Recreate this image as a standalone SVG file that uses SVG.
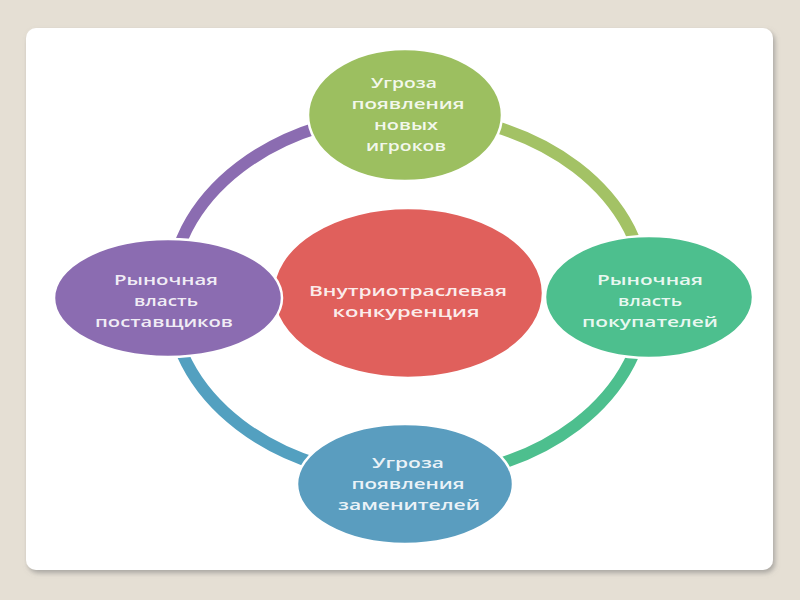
<svg xmlns="http://www.w3.org/2000/svg" width="800" height="600" viewBox="0 0 800 600">
  <defs>
    <filter id="shadow" x="-5%" y="-5%" width="110%" height="110%">
      <feDropShadow dx="2" dy="3" stdDeviation="2.5" flood-color="#777" flood-opacity="0.55"/>
    </filter>
    <style>
      .ring { fill: none; stroke-width: 12; }
      .node { stroke: #ffffff; stroke-width: 2.5; }
      .lbl { font-family: "Open Sans", "Liberation Sans", sans-serif; font-size: 15px; font-weight: 600; fill: #ffffff; fill-opacity: 0.9; text-anchor: middle; }
    </style>
  </defs>
  <rect width="800" height="600" fill="#e5dfd4"/>
  <rect x="26" y="28" width="747" height="542" rx="10" ry="10" fill="#ffffff" filter="url(#shadow)"/>

  <g id="connectors">
    <path class="ring" stroke="#8b6cb1" d="M408,114 A238,182 0 0 0 170,296"/>
    <path class="ring" stroke="#a3c265" d="M408,114 A238,182 0 0 1 646,296"/>
    <path class="ring" stroke="#4dbf8e" d="M646,296 A238,182 0 0 1 408,478"/>
    <path class="ring" stroke="#53a0c0" d="M408,478 A238,182 0 0 1 170,296"/>
  </g>

  <g id="center">
    <ellipse class="node" cx="408" cy="293" rx="135" ry="85" fill="#e0605c"/>
    <text class="lbl" x="408" y="296" textLength="198" lengthAdjust="spacingAndGlyphs">Внутриотраслевая</text>
    <text class="lbl" x="406" y="317" textLength="147" lengthAdjust="spacingAndGlyphs">конкуренция</text>
  </g>

  <g id="top">
    <ellipse class="node" cx="405" cy="115" rx="97" ry="66" fill="#9cbf60"/>
    <text class="lbl" x="404" y="88" textLength="66" lengthAdjust="spacingAndGlyphs">Угроза</text>
    <text class="lbl" x="408" y="109" textLength="113" lengthAdjust="spacingAndGlyphs">появления</text>
    <text class="lbl" x="406" y="130" textLength="64" lengthAdjust="spacingAndGlyphs">новых</text>
    <text class="lbl" x="406" y="151" textLength="80" lengthAdjust="spacingAndGlyphs">игроков</text>
  </g>

  <g id="left">
    <ellipse class="node" cx="168" cy="298" rx="114" ry="59" fill="#8b6cb1"/>
    <text class="lbl" x="166" y="285" textLength="104" lengthAdjust="spacingAndGlyphs">Рыночная</text>
    <text class="lbl" x="166" y="306" textLength="64" lengthAdjust="spacingAndGlyphs">власть</text>
    <text class="lbl" x="164" y="327" textLength="138" lengthAdjust="spacingAndGlyphs">поставщиков</text>
  </g>

  <g id="right">
    <ellipse class="node" cx="649" cy="297" rx="104" ry="61" fill="#4dbf8e"/>
    <text class="lbl" x="650" y="285" textLength="106" lengthAdjust="spacingAndGlyphs">Рыночная</text>
    <text class="lbl" x="650" y="306" textLength="64" lengthAdjust="spacingAndGlyphs">власть</text>
    <text class="lbl" x="650" y="327" textLength="136" lengthAdjust="spacingAndGlyphs">покупателей</text>
  </g>

  <g id="bottom">
    <ellipse class="node" cx="405" cy="484" rx="108" ry="60" fill="#5a9dbf"/>
    <text class="lbl" x="408" y="468" textLength="72" lengthAdjust="spacingAndGlyphs">Угроза</text>
    <text class="lbl" x="408" y="489" textLength="113" lengthAdjust="spacingAndGlyphs">появления</text>
    <text class="lbl" x="409" y="510" textLength="142" lengthAdjust="spacingAndGlyphs">заменителей</text>
  </g>
</svg>
